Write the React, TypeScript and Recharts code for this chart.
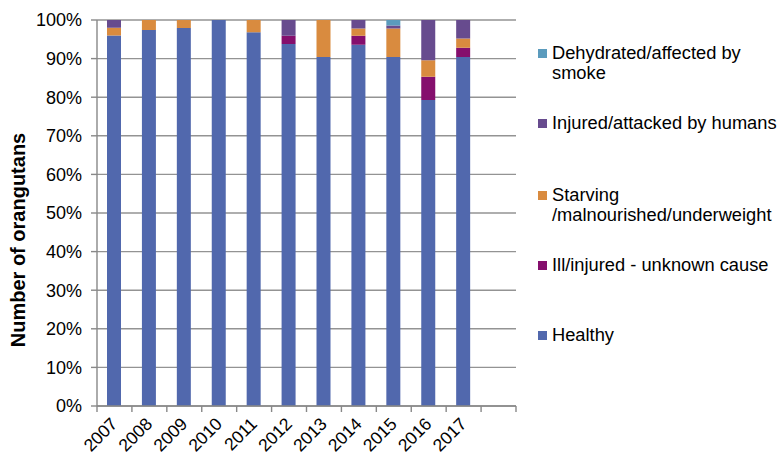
import React from 'react';
import { BarChart, Bar, XAxis, YAxis, CartesianGrid, Label } from 'recharts';

const years = ['2007', '2008', '2009', '2010', '2011', '2012', '2013', '2014', '2015', '2016', '2017', ''];
const healthy = [96.0, 97.4, 97.9, 100, 96.8, 93.8, 90.4, 93.6, 90.4, 79.3, 90.4, null];
const illUnknown = [0, 0, 0, 0, 0, 2.1, 0, 2.3, 0, 6.0, 2.4, null];
const starving = [2.0, 2.6, 2.1, 0, 3.2, 0, 9.6, 1.9, 7.4, 4.3, 2.4, null];
const injuredHumans = [2.0, 0, 0, 0, 0, 4.1, 0, 2.2, 0.8, 10.4, 4.8, null];
const dehydrated = [0, 0, 0, 0, 0, 0, 0, 0, 1.4, 0, 0, null];
const yTicks = [0, 10, 20, 30, 40, 50, 60, 70, 80, 90, 100];

const series = [
  { key: 'healthy', name: 'Healthy', color: '#5168ad' },
  { key: 'illUnknown', name: 'Ill/injured - unknown cause', color: '#850f6d' },
  { key: 'starving', name: 'Starving\n/malnourished/underweight', color: '#d98b3f' },
  { key: 'injuredHumans', name: 'Injured/attacked by humans', color: '#674b8e' },
  { key: 'dehydrated', name: 'Dehydrated/affected by\nsmoke', color: '#5b9bbd' },
];

const data = years.map((year, i) => ({
  year,
  healthy: healthy[i],
  illUnknown: illUnknown[i],
  starving: starving[i],
  injuredHumans: injuredHumans[i],
  dehydrated: dehydrated[i],
}));

const FONT = '"Liberation Sans", Arial, sans-serif';
const PLOT_LEFT = 97;
const PLOT_RIGHT_MARGIN = 264;
const BAND = (780 - PLOT_LEFT - PLOT_RIGHT_MARGIN) / years.length;

const XTick = (props: any) => {
  const { x, y, payload, index } = props;
  const last = index === years.length - 1;
  const tx = x + 4;
  const ty = y + 11;
  return (
    <g>
      <line x1={x - BAND / 2} x2={x - BAND / 2} y1={y - 8} y2={y - 2} stroke="#888" strokeWidth={1.4} />
      {last && (
        <line x1={x + BAND / 2} x2={x + BAND / 2} y1={y - 8} y2={y - 2} stroke="#888" strokeWidth={1.4} />
      )}
      <text
        x={tx}
        y={ty}
        transform={`rotate(-45, ${tx}, ${ty})`}
        textAnchor="end"
        fontFamily={FONT}
        fontSize={17.5}
        fill="#000"
      >
        {payload.value}
      </text>
    </g>
  );
};

const legendTops: Record<string, number> = {
  dehydrated: 43,
  injuredHumans: 113,
  starving: 185,
  illUnknown: 255,
  healthy: 325,
};

export default function App() {
  return (
    <div style={{ position: 'absolute', left: 0, top: 0, width: 780, height: 458, background: '#fff' }}>
      <BarChart
        width={780}
        height={458}
        data={data}
        margin={{ top: 20, right: PLOT_RIGHT_MARGIN, bottom: 0, left: 0 }}
        barSize={14}
      >
        <CartesianGrid vertical={false} stroke="#939393" strokeWidth={1.4} />
        <XAxis
          dataKey="year"
          interval={0}
          tickLine={false}
          axisLine={{ stroke: '#888', strokeWidth: 1.4 }}
          tick={<XTick />}
          height={52}
        />
        <YAxis
          domain={[0, 100]}
          ticks={yTicks}
          tickFormatter={(v: number) => `${v}%`}
          width={PLOT_LEFT}
          tickSize={6}
          tickMargin={9}
          tickLine={{ stroke: '#888', strokeWidth: 1.4 }}
          axisLine={{ stroke: '#888', strokeWidth: 1.4 }}
          tick={{ fontFamily: FONT, fontSize: 18, fill: '#000' }}
          allowDataOverflow
        >
          <Label
            content={() => (
              <text
                x={18}
                y={240}
                transform="rotate(-90, 18, 240)"
                textAnchor="middle"
                dominantBaseline="central"
                fontFamily={FONT}
                fontSize={20}
                fontWeight="bold"
                fill="#000"
              >
                Number of orangutans
              </text>
            )}
          />
        </YAxis>
        {series.map((s) => (
          <Bar key={s.key} dataKey={s.key} name={s.name} stackId="a" fill={s.color} isAnimationActive={false} />
        ))}
      </BarChart>
      {series.map((s) => (
        <div
          key={s.key}
          style={{
            position: 'absolute',
            left: 538,
            top: legendTops[s.key],
            display: 'flex',
            alignItems: 'flex-start',
            fontFamily: FONT,
            fontSize: 18.3,
            lineHeight: '20px',
            color: '#000',
          }}
        >
          <div style={{ width: 9, height: 9, background: s.color, marginTop: 6, marginRight: 5, flexShrink: 0 }} />
          <div style={{ whiteSpace: 'pre-line' }}>{s.name}</div>
        </div>
      ))}
    </div>
  );
}
